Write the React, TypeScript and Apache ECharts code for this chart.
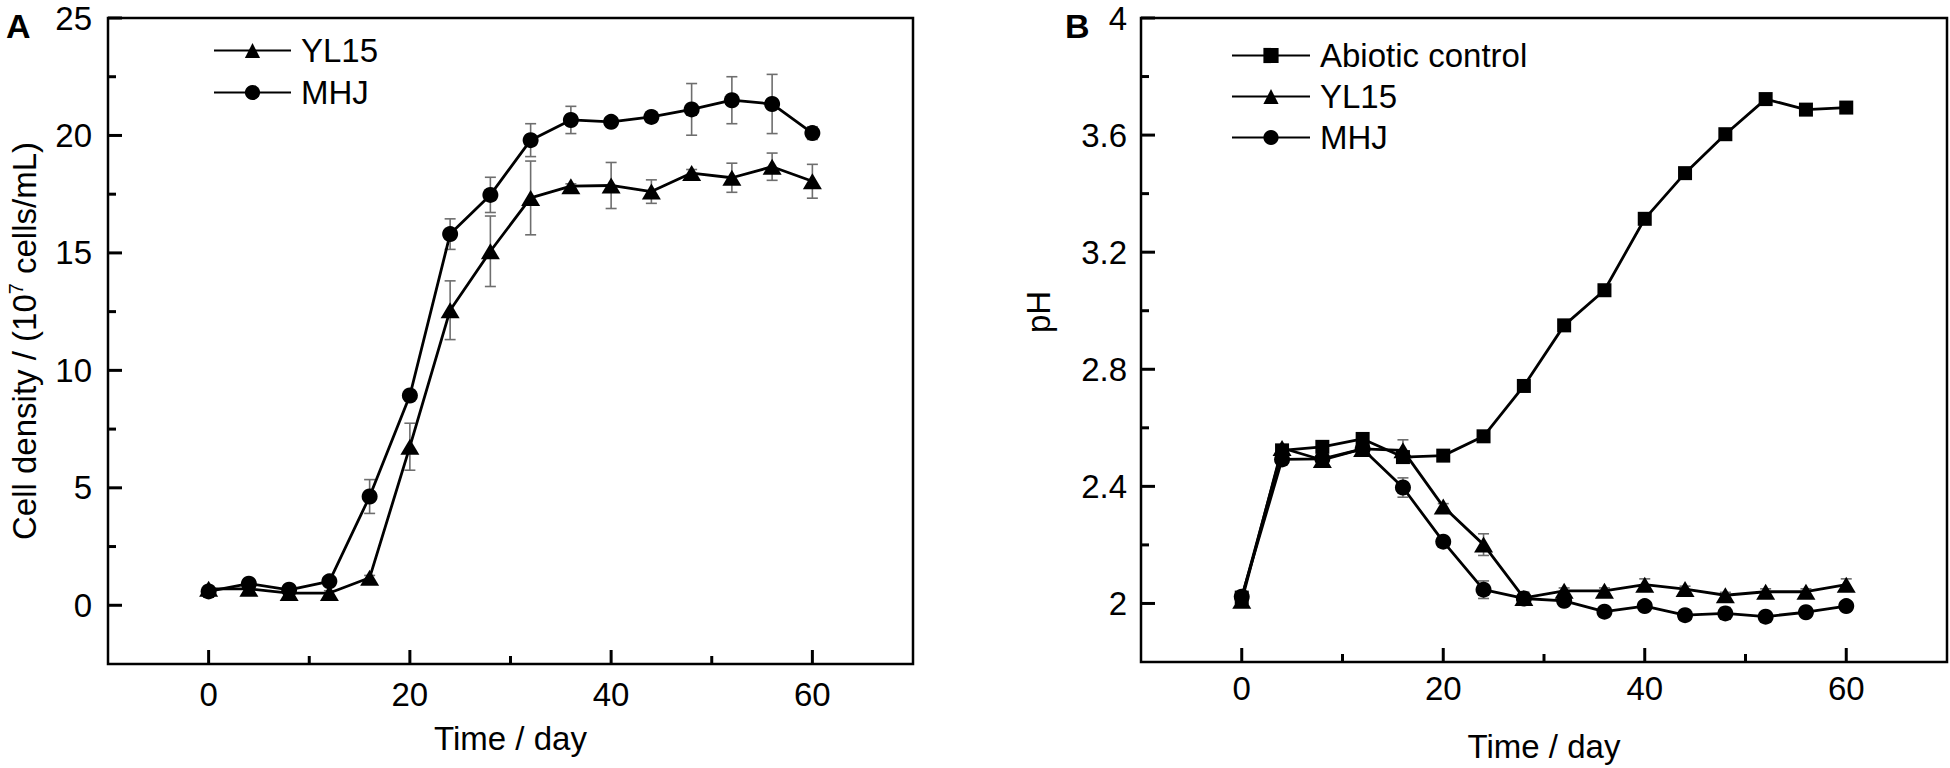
import React, { useEffect, useRef } from "react";
import * as echarts from "echarts";

// ---- Data ----
const DAYS = [0, 4, 8, 12, 16, 20, 24, 28, 32, 36, 40, 44, 48, 52, 56, 60];

// Panel A: cell density (10^7 cells/mL)
const YL15_A = [0.7, 0.7, 0.52, 0.52, 1.17, 6.75, 12.56, 15.07, 17.34, 17.84, 17.87, 17.61, 18.4, 18.2, 18.67, 18.05];
const YL15_A_ERR = [0.1, 0.1, 0.1, 0.1, 0.1, 1.0, 1.25, 1.5, 1.57, 0.1, 0.98, 0.5, 0.15, 0.62, 0.58, 0.72];
const MHJ_A = [0.59, 0.92, 0.66, 1.02, 4.63, 8.93, 15.8, 17.47, 19.8, 20.66, 20.58, 20.79, 21.11, 21.5, 21.34, 20.1];
const MHJ_A_ERR = [0.1, 0.1, 0.1, 0.1, 0.72, 0.1, 0.65, 0.75, 0.7, 0.58, 0.1, 0.1, 1.1, 1.0, 1.26, 0.27];

// Panel B: pH
const ABIOTIC_B = [2.02, 2.523, 2.535, 2.562, 2.5, 2.505, 2.571, 2.743, 2.95, 3.07, 3.314, 3.47, 3.603, 3.723, 3.687, 3.694];
const YL15_B = [2.009, 2.531, 2.49, 2.528, 2.523, 2.331, 2.201, 2.019, 2.043, 2.043, 2.064, 2.049, 2.028, 2.04, 2.04, 2.064];
const YL15_B_ERR = [0, 0, 0, 0, 0.036, 0.01, 0.037, 0.02, 0.01, 0.01, 0.02, 0.01, 0.01, 0.01, 0.01, 0.02];
const MHJ_B = [2.023, 2.492, 2.494, 2.528, 2.396, 2.211, 2.047, 2.017, 2.009, 1.972, 1.991, 1.96, 1.966, 1.955, 1.97, 1.991];
const MHJ_B_ERR = [0, 0, 0, 0, 0.033, 0.01, 0.03, 0.02, 0.01, 0.01, 0.01, 0.01, 0.02, 0.01, 0.01, 0.01];

// Axis ranges and ticks
const X_MIN = -10;
const X_MAX = 70;
const YA_MIN = -2.5;
const YA_MAX = 25;
const YB_MIN = 1.8;
const YB_MAX = 4;
const X_MAJOR = [0, 20, 40, 60];
const X_MINOR = [10, 30, 50];
const YA_MAJOR = [0, 5, 10, 15, 20, 25];
const YA_MINOR = [2.5, 7.5, 12.5, 17.5, 22.5];
const YB_MAJOR = [2, 2.4, 2.8, 3.2, 3.6, 4];
const YB_MINOR = [2.2, 2.6, 3.0, 3.4, 3.8];

const FONT = "Liberation Sans, Arial, sans-serif";
const FS = 33;
const MAJOR_LEN = 14;
const MINOR_LEN = 8;

const pairs = (vals: number[]) => DAYS.map((d, i) => [d, vals[i]]);
const triples = (vals: number[], errs: number[]) => DAYS.map((d, i) => [d, vals[i], errs[i]]);

function valueAxis(gridIndex: number, min: number, max: number, labels: number[], extra: any) {
  return {
    type: "value",
    gridIndex,
    min,
    max,
    axisLine: { show: false, onZero: false },
    splitLine: { show: false },
    axisTick: { show: false },
    axisLabel: {
      customValues: labels,
      color: "#000",
      fontSize: FS,
      fontFamily: FONT,
      lineHeight: 26,
      ...(extra.axisLabel || {}),
    },
    ...extra.rest,
  };
}

function errorSeries(name: string, idx: number, data: number[][]) {
  return {
    type: "custom",
    name,
    xAxisIndex: idx,
    yAxisIndex: idx,
    z: 1,
    silent: true,
    data,
    renderItem: (params: any, api: any) => {
      const x = api.value(0);
      const y = api.value(1);
      const e = api.value(2);
      if (!e) return null;
      const top = api.coord([x, y + e]);
      const bot = api.coord([x, y - e]);
      const hw = 5.5;
      const style = { stroke: "#6e6e6e", lineWidth: 1.6 };
      return {
        type: "group",
        children: [
          { type: "line", shape: { x1: top[0], y1: top[1], x2: bot[0], y2: bot[1] }, style },
          { type: "line", shape: { x1: top[0] - hw, y1: top[1], x2: top[0] + hw, y2: top[1] }, style },
          { type: "line", shape: { x1: bot[0] - hw, y1: bot[1], x2: bot[0] + hw, y2: bot[1] }, style },
        ],
      };
    },
  };
}

function lineSeries(name: string, idx: number, data: number[][], symbol: string, symbolSize: any) {
  return {
    type: "line",
    name,
    xAxisIndex: idx,
    yAxisIndex: idx,
    z: 3,
    data,
    symbol,
    symbolSize,
    showAllSymbol: true,
    lineStyle: { color: "#000", width: 2.8 },
    itemStyle: { color: "#000" },
  };
}

// inward tick marks, positioned through the chart's own axis scales
function buildTicks(chart: any) {
  const els: any[] = [];
  const style = { stroke: "#000", lineWidth: 3 };
  const panels = [
    { grid: 0, yMin: YA_MIN, yMajor: YA_MAJOR, yMinor: YA_MINOR },
    { grid: 1, yMin: YB_MIN, yMajor: YB_MAJOR, yMinor: YB_MINOR },
  ];
  panels.forEach((p) => {
    const conv = (pt: number[]) => chart.convertToPixel({ gridIndex: p.grid }, pt);
    const xs = [...X_MAJOR.map((v) => [v, MAJOR_LEN]), ...X_MINOR.map((v) => [v, MINOR_LEN])];
    xs.forEach(([v, len]) => {
      const q = conv([v, p.yMin]);
      els.push({ type: "line", z: 50, silent: true, shape: { x1: q[0], y1: q[1], x2: q[0], y2: q[1] - len }, style });
    });
    const ys = [...p.yMajor.map((v) => [v, MAJOR_LEN]), ...p.yMinor.map((v) => [v, MINOR_LEN])];
    ys.forEach(([v, len]) => {
      const q = conv([X_MIN, v]);
      els.push({ type: "line", z: 50, silent: true, shape: { x1: q[0], y1: q[1], x2: q[0] + len, y2: q[1] }, style });
    });
  });
  return els;
}

export default function App() {
  const ref = useRef<HTMLDivElement>(null);

  useEffect(() => {
    document.body.style.margin = "0";
    if (!ref.current) return;
    const chart = echarts.init(ref.current, null, { renderer: "svg" });

    const legendText = {
      fontSize: FS,
      fontFamily: FONT,
      color: "#000",
      lineHeight: 33,
      padding: [0, 0, 0, 5],
    };

    const GRID_TOP = 18;
    const GRID_H = 646;

    const option: any = {
      animation: false,
      backgroundColor: "#fff",
      textStyle: { fontFamily: FONT },
      title: [
        { text: "A", left: 1, top: 4, textStyle: { fontSize: 34, fontWeight: "bold", color: "#000", fontFamily: FONT } },
        { text: "B", left: 1060, top: 4, textStyle: { fontSize: 34, fontWeight: "bold", color: "#000", fontFamily: FONT } },
      ],
      grid: [
        { left: 108, top: GRID_TOP, width: 805, height: GRID_H, show: true, borderColor: "#000", borderWidth: 2.5, backgroundColor: "transparent" },
        { left: 1141, top: GRID_TOP, width: 806, height: GRID_H, show: true, borderColor: "#000", borderWidth: 2.5, backgroundColor: "transparent" },
      ],
      legend: [
        {
          data: ["YL15", "MHJ"],
          orient: "vertical",
          left: 208,
          top: 29,
          itemWidth: 77,
          itemHeight: 19,
          itemGap: 9,
          selectedMode: false,
          textStyle: legendText,
        },
        {
          data: ["Abiotic control", "YL15", "MHJ"],
          orient: "vertical",
          left: 1226,
          top: 34,
          itemWidth: 78,
          itemHeight: 19,
          itemGap: 8,
          selectedMode: false,
          textStyle: legendText,
        },
      ],
      xAxis: [
        valueAxis(0, X_MIN, X_MAX, X_MAJOR, {
          axisLabel: { margin: 17 },
          rest: {
            position: "bottom",
            name: "Time / day",
            nameLocation: "middle",
            nameGap: 58,
            nameTextStyle: { fontSize: FS, fontFamily: FONT, color: "#000" },
          },
        }),
        valueAxis(1, X_MIN, X_MAX, X_MAJOR, {
          axisLabel: { margin: 13 },
          rest: {
            position: "bottom",
            name: "Time / day",
            nameLocation: "middle",
            nameGap: 68,
            nameTextStyle: { fontSize: FS, fontFamily: FONT, color: "#000" },
          },
        }),
      ],
      yAxis: [
        valueAxis(0, YA_MIN, YA_MAX, YA_MAJOR, {
          axisLabel: { margin: 16 },
          rest: {
            position: "left",
            name: "{n|Cell density / (10}{s|7}{n| cells/mL)}",
            nameLocation: "middle",
            nameGap: 66,
            nameTextStyle: {
              color: "#000",
              fontFamily: FONT,
              rich: {
                n: { fontSize: FS, fontFamily: FONT, color: "#000", lineHeight: 36 },
                s: { fontSize: 20, fontFamily: FONT, color: "#000", verticalAlign: "top", lineHeight: 20 },
              },
            },
          },
        }),
        valueAxis(1, YB_MIN, YB_MAX, YB_MAJOR, {
          axisLabel: { margin: 14, formatter: (v: number) => String(Math.round(v * 10) / 10) },
          rest: {
            position: "left",
            name: "pH",
            nameLocation: "middle",
            nameGap: 86,
            nameTextStyle: { fontSize: FS, fontFamily: FONT, color: "#000", padding: [0, 0, 0, 56] },
          },
        }),
      ],
      series: [
        errorSeries("YL15 error A", 0, triples(YL15_A, YL15_A_ERR)),
        errorSeries("MHJ error A", 0, triples(MHJ_A, MHJ_A_ERR)),
        lineSeries("YL15", 0, pairs(YL15_A), "triangle", [19, 16]),
        lineSeries("MHJ", 0, pairs(MHJ_A), "circle", 16),
        errorSeries("YL15 error B", 1, triples(YL15_B, YL15_B_ERR)),
        errorSeries("MHJ error B", 1, triples(MHJ_B, MHJ_B_ERR)),
        lineSeries("Abiotic control", 1, pairs(ABIOTIC_B), "rect", 14),
        lineSeries("YL15", 1, pairs(YL15_B), "triangle", [19, 16]),
        lineSeries("MHJ", 1, pairs(MHJ_B), "circle", 16),
      ],
    };

    chart.setOption(option);
    chart.setOption({ graphic: buildTicks(chart) });
    return () => {
      chart.dispose();
    };
  }, []);

  return <div ref={ref} style={{ width: 1950, height: 768 }} />;
}
